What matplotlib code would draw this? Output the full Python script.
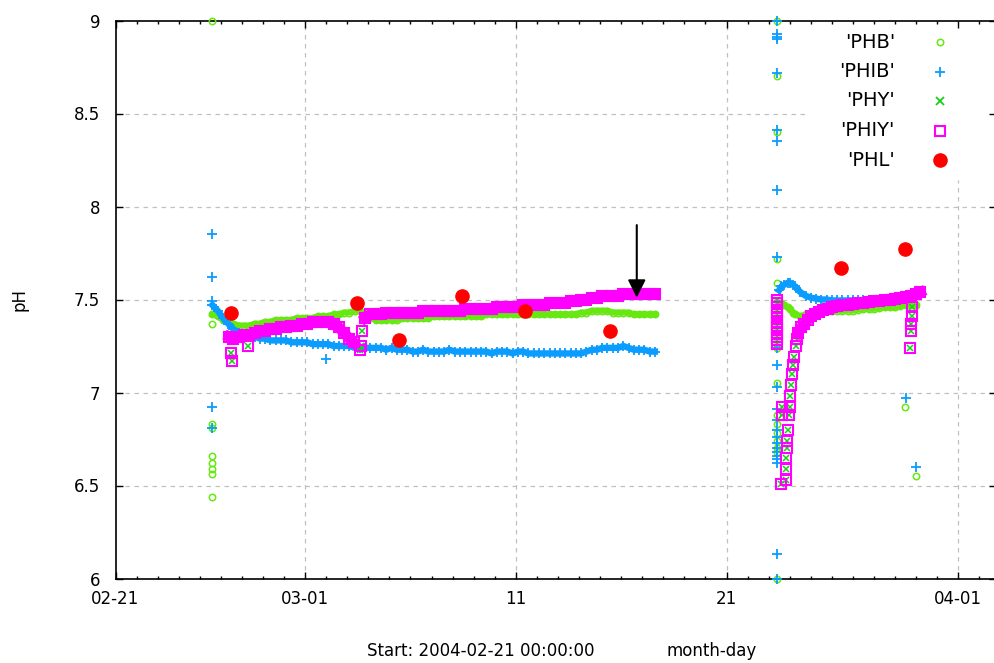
import numpy as np
import matplotlib
matplotlib.use("Agg")
import matplotlib.pyplot as plt
from matplotlib.lines import Line2D
from matplotlib.ticker import NullLocator

plt.rcParams['font.family'] = ['DejaVu Sans']

# Time axis: days since 2004-02-21 00:00:00
x_tick_days = [0, 9, 19, 29, 40]
x_tick_labels = ["02-21", "03-01", "11", "21", "04-01"]
y_ticks = [6, 6.5, 7, 7.5, 8, 8.5, 9]
y_tick_labels = ["6", "6.5", "7", "7.5", "8", "8.5", "9"]
series_labels = ["'PHB'", "'PHIB'", "'PHY'", "'PHIY'", "'PHL'"]

# ---------------- first run (logger sampled every 6 h) ----------------
run1_days = np.arange(4.6, 25.65, 0.25)

phib_run1 = [
    7.47, 7.44, 7.40, 7.37,
    7.34, 7.32, 7.31, 7.30,
    7.30, 7.29, 7.29, 7.28,
    7.28, 7.28, 7.28, 7.27,
    7.27, 7.27, 7.27, 7.26,
    7.26, 7.26, 7.26, 7.25,
    7.25, 7.25, 7.25, 7.24,
    7.24, 7.24, 7.24, 7.24,
    7.24, 7.23, 7.24, 7.23,
    7.23, 7.23, 7.22, 7.22,
    7.23, 7.22, 7.22, 7.22,
    7.22, 7.23, 7.22, 7.22,
    7.22, 7.22, 7.22, 7.22,
    7.22, 7.21, 7.22, 7.22,
    7.22, 7.21, 7.22, 7.22,
    7.21, 7.21, 7.21, 7.21,
    7.21, 7.21, 7.21, 7.21,
    7.21, 7.21, 7.21, 7.22,
    7.23, 7.23, 7.24, 7.24,
    7.24, 7.24, 7.25, 7.24,
    7.23, 7.23, 7.23, 7.22,
    7.22,
]

phb_run1 = [
    7.42, 7.41, 7.39, 7.38,
    7.37, 7.36, 7.36, 7.36,
    7.37, 7.37, 7.38, 7.38,
    7.39, 7.39, 7.39, 7.39,
    7.40, 7.40, 7.40, 7.40,
    7.41, 7.41, 7.41, 7.42,
    7.42, 7.43, 7.43, 7.44,
    7.44, 7.42, 7.40, 7.39,
    7.39, 7.39, 7.39, 7.39,
    7.40, 7.40, 7.40, 7.40,
    7.40, 7.40, 7.41, 7.41,
    7.41, 7.41, 7.41, 7.41,
    7.41, 7.41, 7.41, 7.41,
    7.42, 7.42, 7.42, 7.42,
    7.42, 7.42, 7.42, 7.42,
    7.42, 7.42, 7.42, 7.42,
    7.42, 7.42, 7.42, 7.42,
    7.42, 7.42, 7.43, 7.43,
    7.44, 7.44, 7.44, 7.44,
    7.43, 7.43, 7.43, 7.43,
    7.42, 7.42, 7.42, 7.42,
    7.42,
]

phiy_run1a_days = [5.4, 5.6, 5.85, 6.1, 6.35, 6.6, 6.85, 7.1, 7.35, 7.6, 7.85, 8.1,
                   8.35, 8.6, 8.85, 9.1, 9.35, 9.6, 9.85, 10.1, 10.35, 10.6, 10.85,
                   11.1, 11.3]
phiy_run1a = [7.30, 7.29, 7.30, 7.31, 7.31, 7.32, 7.33, 7.33, 7.34, 7.34, 7.35, 7.35,
              7.36, 7.36, 7.37, 7.37, 7.38, 7.38, 7.38, 7.38, 7.37, 7.35, 7.32,
              7.29, 7.27]

phiy_run1b_days = np.arange(11.85, 25.65, 0.25)
phiy_run1b = [
    7.40, 7.42, 7.42, 7.42,
    7.43, 7.43, 7.43, 7.43,
    7.43, 7.43, 7.43, 7.44,
    7.44, 7.44, 7.44, 7.44,
    7.44, 7.44, 7.44, 7.45,
    7.45, 7.45, 7.45, 7.45,
    7.45, 7.46, 7.46, 7.46,
    7.46, 7.46, 7.47, 7.47,
    7.47, 7.47, 7.47, 7.48,
    7.48, 7.48, 7.48, 7.49,
    7.49, 7.50, 7.50, 7.51,
    7.51, 7.52, 7.52, 7.52,
    7.52, 7.53, 7.53, 7.53,
    7.53, 7.53, 7.53, 7.53,
]

# ---------------- second run ----------------
run2_days = [31.5, 31.6, 31.75, 31.9, 32.0, 32.15, 32.25, 32.5, 32.75, 33.0,
             33.25, 33.5, 33.75, 34.0, 34.25, 34.5, 34.75, 35.0, 35.25, 35.5,
             35.75, 36.0, 36.25, 36.5, 36.75, 37.0, 37.25, 37.5, 37.75, 38.0]

phb_run2 = [7.48, 7.48, 7.47, 7.46, 7.45, 7.43, 7.42, 7.41, 7.42, 7.43,
            7.43, 7.44, 7.44, 7.44, 7.44, 7.44, 7.44, 7.44, 7.445, 7.45,
            7.45, 7.45, 7.455, 7.46, 7.46, 7.46, 7.465, 7.47, 7.47, 7.47]

phib_run2_days = run2_days[:28]
phib_run2 = [7.55, 7.57, 7.58, 7.59, 7.59, 7.58, 7.57, 7.54, 7.52, 7.51,
             7.505, 7.50, 7.50, 7.495, 7.495, 7.495, 7.495, 7.495, 7.495, 7.495,
             7.495, 7.50, 7.50, 7.50, 7.50, 7.50, 7.50, 7.505]

phiy_run2_days = [32.4, 32.55, 32.7, 32.85, 33.0, 33.2, 33.4, 33.6, 33.8, 34.0,
                  34.25, 34.5, 34.75, 35.0, 35.25, 35.5, 35.75, 36.0, 36.25, 36.5,
                  36.75, 37.0, 37.25, 37.5, 37.75, 38.0, 38.2]
phiy_run2 = [7.32, 7.35, 7.37, 7.39, 7.41, 7.42, 7.435, 7.445, 7.45, 7.46,
             7.465, 7.47, 7.47, 7.475, 7.48, 7.48, 7.485, 7.49, 7.49, 7.495,
             7.50, 7.505, 7.51, 7.515, 7.52, 7.53, 7.54]

# ---------------- scattered readings (start-up / shutdown) ----------------
phb_out_days = [4.57] * 9 + [31.4] * 14 + [37.45, 38.0]
phb_out = [9.0, 7.37, 6.83, 6.81, 6.66, 6.62, 6.59, 6.56, 6.44,
           9.0, 8.70, 8.40, 7.72, 7.59, 7.24, 7.05, 6.88, 6.83, 6.78, 6.74, 6.70, 6.68, 6.0,
           6.92, 6.55]

phib_out_days = [4.6] * 5 + [10.0] + [31.4] * 24 + [37.5, 38.0]
phib_out = [7.85, 7.62, 7.49, 6.92, 6.81,
            7.18,
            9.0, 8.93, 8.91, 8.90, 8.72, 8.41, 8.35, 8.09, 7.73, 7.24, 7.15, 7.03,
            6.91, 6.85, 6.80, 6.76, 6.73, 6.70, 6.68, 6.66, 6.64, 6.62, 6.13, 6.0,
            6.97, 6.60]

phiy_out_days = ([5.5, 5.55, 6.3, 11.6, 11.65, 11.7]
                 + [31.4] * 13
                 + [31.6, 31.65, 31.65, 31.8, 31.8, 31.82, 31.85, 31.87, 31.9, 31.95,
                    32.0, 32.0, 32.05, 32.1, 32.15, 32.2, 32.3, 32.35]
                 + [37.7, 37.75, 37.75, 37.8, 37.8])
phiy_out = ([7.21, 7.17, 7.25, 7.23, 7.25, 7.33]
            + [7.26, 7.28, 7.30, 7.32, 7.34, 7.36, 7.38, 7.40, 7.42, 7.44, 7.46, 7.48, 7.50]
            + [6.51, 6.88, 6.92, 6.53, 6.59, 6.65, 6.70, 6.74, 6.80, 6.88,
               6.92, 6.98, 7.04, 7.10, 7.15, 7.19, 7.25, 7.29]
            + [7.24, 7.33, 7.37, 7.41, 7.46])

# PHY follows PHIY
phy_out_days = phiy_out_days
phy_out = phiy_out

# Manual PHL readings
phl_days = [5.5, 11.45, 13.45, 16.45, 19.45, 23.45, 34.45, 37.45]
phl_vals = [7.43, 7.48, 7.28, 7.52, 7.44, 7.33, 7.67, 7.77]

# Marker of interest
arrow_day = 24.74
arrow_from, arrow_to = 7.90, 7.51

# ---------------- styles ----------------
c_phb = '#66e810'
c_phib = '#0a9cff'
c_phy = '#18d018'
c_phiy = '#ff00ff'
c_phl = '#ff0000'

W, H = 994, 663
LEFT, RIGHT, TOP, BOTTOM = 115.5, 995.8, 20.5, 578.5
PX_PER_DAY = 21.07
fig = plt.figure(figsize=(W / 100, H / 100), dpi=100)
ax = fig.add_axes([LEFT / W, (H - BOTTOM) / H, (RIGHT - LEFT) / W, (BOTTOM - TOP) / H])
ax.set_xlim(0, (RIGHT - LEFT) / PX_PER_DAY)
ax.set_ylim(6, 9)

ms_phb = dict(marker='o', ms=4.6, mfc='none', mec=c_phb, mew=1.1, ls='none')
ms_phib = dict(marker='+', ms=7, mec=c_phib, mew=1.3, ls='none')
ms_phy = dict(marker='x', ms=4.5, mec=c_phy, mew=1.1, ls='none')
ms_phiy = dict(marker='s', ms=7.2, mfc='none', mec=c_phiy, mew=1.5, ls='none')
ms_phl = dict(marker='o', ms=9.5, mfc=c_phl, mec=c_phl, ls='none')

# PHB
for t, v in [(run1_days, phb_run1), (run2_days, phb_run2)]:
    ax.plot(t, v, color=c_phb, lw=4.4, solid_joinstyle='round', zorder=3)
    ax.plot(t, v, zorder=3, **ms_phb)
ax.plot(phb_out_days, phb_out, zorder=3, clip_on=False, **ms_phb)

# PHIB
for t, v in [(run1_days, phib_run1), (phib_run2_days, phib_run2)]:
    ax.plot(t, v, color=c_phib, lw=4.6, solid_joinstyle='round', zorder=3.2)
    ax.plot(t, v, zorder=3.2, **ms_phib)
ax.plot(phib_out_days, phib_out, zorder=3.2, clip_on=False, **ms_phib)

# PHY
for t, v in [(phiy_run1a_days, phiy_run1a), (phiy_run1b_days, phiy_run1b),
             (phiy_run2_days, phiy_run2)]:
    ax.plot(t, v, zorder=3.4, **ms_phy)
ax.plot(phy_out_days, phy_out, zorder=3.4, clip_on=False, **ms_phy)

# PHIY
for t, v in [(phiy_run1a_days, phiy_run1a), (phiy_run1b_days, phiy_run1b),
             (phiy_run2_days, phiy_run2)]:
    ax.plot(t, v, color=c_phiy, lw=7.6, solid_joinstyle='round', zorder=3.6)
    ax.plot(t, v, zorder=3.6, **ms_phiy)
ax.plot(phiy_out_days, phiy_out, zorder=3.6, clip_on=False, **ms_phiy)

# PHL
ax.plot(phl_days, phl_vals, zorder=4, **ms_phl)

ax.annotate('', xy=(arrow_day, arrow_to), xytext=(arrow_day, arrow_from),
            arrowprops=dict(arrowstyle='-|>', color='black', lw=1.5,
                            mutation_scale=27, shrinkA=0, shrinkB=0),
            zorder=5)

# axes and ticks
ax.set_xticks(x_tick_days, x_tick_labels)
ax.set_xticks(np.arange(0, 42), minor=True)
ax.set_yticks(y_ticks, y_tick_labels)
ax.yaxis.set_minor_locator(NullLocator())
ax.tick_params(which='both', direction='in', top=True, right=True, width=1, colors='black')
ax.tick_params(which='major', length=5, labelsize=12)
ax.tick_params(which='minor', length=2.5)
ax.tick_params(axis='x', pad=8)
ax.tick_params(axis='y', pad=11)
for s in ax.spines.values():
    s.set_linewidth(1.2)
    s.set_color('black')

# dashed grid, left open behind the key in the upper right corner
KEY_LEFT_PX, KEY_BOTTOM_PX = 808, 180
key_left = (KEY_LEFT_PX - LEFT) / (RIGHT - LEFT)
key_bottom = (BOTTOM - KEY_BOTTOM_PX) / (BOTTOM - TOP)
grid_kw = dict(color='#c0c0c0', linestyle=(0, (3.6, 3.6)), linewidth=0.9, zorder=1)
for yv in y_ticks[1:-1]:
    yfrac = (yv - 6) / 3
    ax.axhline(yv, xmax=key_left if yfrac > key_bottom else 1, **grid_kw)
for xv in x_tick_days[1:]:
    xfrac = xv / ax.get_xlim()[1]
    ax.axvline(xv, ymax=key_bottom if xfrac > key_left else 1, **grid_kw)

# key
key_styles = [ms_phb, ms_phib, dict(ms_phy, ms=6, mew=1.3), ms_phiy, ms_phl]
for i, (lab, st) in enumerate(zip(series_labels, key_styles)):
    ypx = 42 + 29.5 * i
    fig.text(895 / W, 1 - ypx / H, lab, ha='right', va='center', fontsize=14)
    fig.add_artist(Line2D([940 / W], [1 - ypx / H], transform=fig.transFigure, **st))

fig.text(481 / W, 1 - 651 / H, 'Start: 2004-02-21 00:00:00', ha='center', va='center',
         fontsize=12)
fig.text(712 / W, 1 - 651 / H, 'month-day', ha='center', va='center', fontsize=12)
fig.text(20 / W, 1 - 300 / H, 'pH', rotation=90, ha='center', va='center', fontsize=12)

fig.savefig('out.png', dpi=100)
